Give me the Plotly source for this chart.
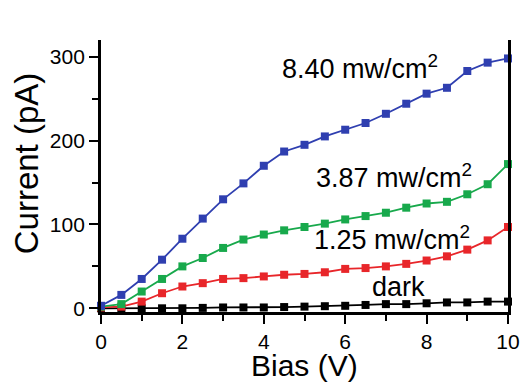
import plotly.graph_objects as go

bias = [0, 0.5, 1, 1.5, 2, 2.5, 3, 3.5, 4, 4.5, 5, 5.5, 6, 6.5, 7, 7.5, 8, 8.5, 9, 9.5, 10]
dark = [0, 0, 0, 0, 0, 0.5, 1, 1, 1, 1.5, 2, 2.5, 3, 4, 5, 5, 6, 7, 7, 8, 8]
i_125 = [1, 2, 8, 18, 26, 30, 35, 36, 38, 40, 41, 43, 47, 48, 50, 53, 57, 62, 70, 81, 97]
i_387 = [2, 5, 20, 35, 50, 60, 72, 82, 88, 93, 97, 101, 106, 110, 114, 120, 125, 127, 136, 148, 172]
i_840 = [3, 16, 35, 58, 83, 107, 130, 149, 170, 187, 195, 205, 213, 221, 232, 244, 256, 263, 283, 293, 298]

series = [
    ("dark", dark, "#000000"),
    ("1.25 mw/cm2", i_125, "#e8262a"),
    ("3.87 mw/cm2", i_387, "#18a94c"),
    ("8.40 mw/cm2", i_840, "#2f3fb0"),
]

labels = ["8.40 mw/cm<sup>2</sup>", "3.87 mw/cm<sup>2</sup>", "1.25 mw/cm<sup>2</sup>", "dark"]
x_title = "Bias (V)"
y_title = "Current (pA)"

FONT = "Arial, Liberation Sans, sans-serif"

fig = go.Figure()
for name, ys, col in series:
    fig.add_trace(go.Scatter(
        x=bias, y=ys, mode="lines+markers", name=name,
        line=dict(color=col, width=1.8),
        marker=dict(symbol="square", size=8, color=col),
        showlegend=False, cliponaxis=False,
    ))

font_ann = dict(family=FONT, size=27, color="black")
ann_pos = [(4.41, 287.7), (5.24, 157.7), (5.19, 83.8), (6.6, 25.4)]
for txt, (ax, ay) in zip(labels, ann_pos):
    fig.add_annotation(x=ax, y=ay, text=txt, showarrow=False, xanchor="left",
                       yanchor="middle", font=font_ann)

# axis titles placed as annotations for exact positioning
fig.add_annotation(text=y_title, xref="paper", yref="paper", x=-0.183, y=0.545,
                   textangle=-90, showarrow=False, xanchor="center", yanchor="middle",
                   font=dict(family=FONT, size=33, color="black"))
fig.add_annotation(text=x_title, xref="paper", yref="paper", x=0.5, y=-0.264,
                   showarrow=False, xanchor="center", yanchor="bottom",
                   font=dict(family=FONT, size=30, color="black"))

axis_common = dict(
    showline=True, linecolor="black", linewidth=2.8,
    ticks="outside", tickcolor="black", tickwidth=2.2, ticklen=9,
    showgrid=False, zeroline=False, automargin=False,
    tickfont=dict(family=FONT, size=21, color="black"),
)

fig.update_xaxes(
    range=[0, 10], tickvals=[0, 2, 4, 6, 8, 10],
    minor=dict(tickvals=[1, 3, 5, 7, 9], ticks="outside", ticklen=6, tickwidth=2.2, tickcolor="black"),
    **axis_common,
)
fig.update_yaxes(
    range=[-4.4, 320], tickvals=[0, 100, 200, 300], mirror=True,
    minor=dict(tickvals=[50, 150, 250], ticks="outside", ticklen=6, tickwidth=2.2, tickcolor="black"),
    **axis_common,
)

fig.update_layout(
    width=521, height=383,
    margin=dict(l=101, r=13, t=40, b=71),
    paper_bgcolor="white", plot_bgcolor="white",
)

fig.write_html("out.html", config={"displayModeBar": False},
               post_script="document.body.style.margin='0';document.body.style.overflow='hidden';")
